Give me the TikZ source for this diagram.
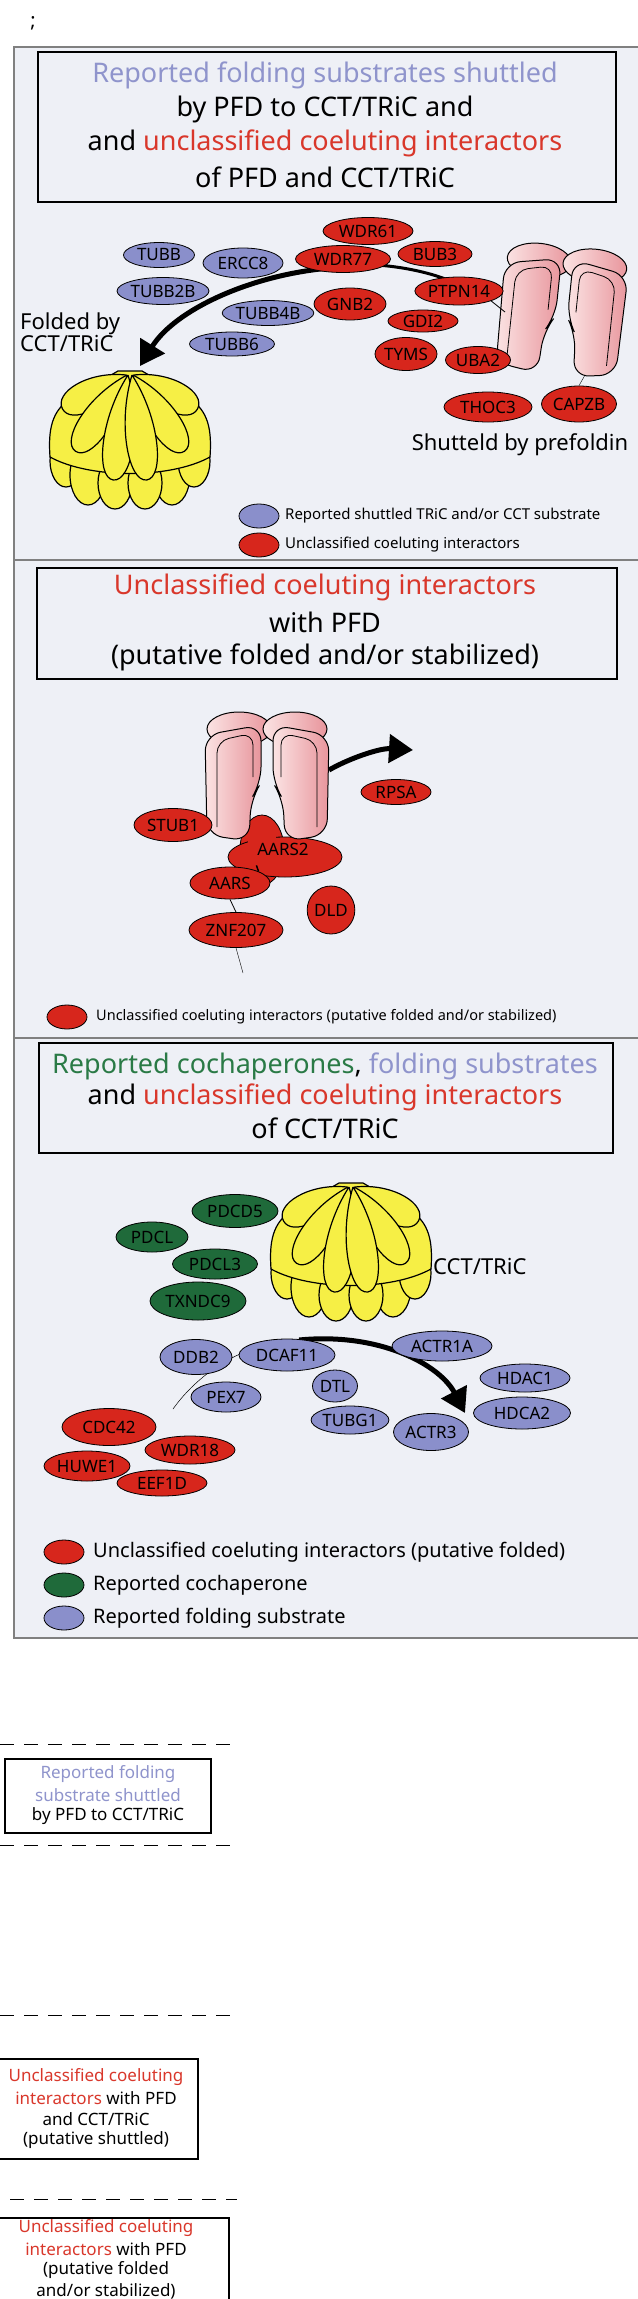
\documentclass[tikz,border=0pt]{standalone}
\usepackage{fontspec}
\setmainfont{Noto Sans}
\usetikzlibrary{shapes.geometric,arrows.meta}
\newcommand\myfs[1]{\fontsize{#1}{#1}\selectfont}
\definecolor{pblue}{HTML}{8A8FCB}
\definecolor{pred}{HTML}{D7261C}
\definecolor{pgreen}{HTML}{1F6A3A}
\definecolor{tblue}{HTML}{8F94CC}
\definecolor{tred}{HTML}{D9372B}
\definecolor{tgreen}{HTML}{2A7A46}
\definecolor{panelbg}{HTML}{EEF0F6}
\definecolor{cyel}{HTML}{F6EF45}
\definecolor{pk1}{HTML}{FBE3E3}
\definecolor{pk2}{HTML}{E8959C}
\tikzset{
 panel/.style={draw=black!50, line width=1.5pt, fill=panelbg},
 tbox/.style={draw=black, line width=1.5pt, fill=panelbg},
 ttl/.style={font=\myfs{27}, anchor=center, inner sep=0pt},
 prot/.style={ellipse, draw=black, line width=0.8pt, inner sep=0pt, font=\myfs{17}},
 bp/.style={prot, fill=pblue},
 rp/.style={prot, fill=pred},
 gp/.style={prot, fill=pgreen},
 P/.style 2 args={minimum width=#1pt, minimum height=#2pt},
 leg/.style={ellipse, draw=black, line width=0.8pt, minimum width=40pt, minimum height=24pt, inner sep=0pt},
 ltxt/.style={anchor=west, inner sep=0pt},
 lbl/.style={font=\myfs{22}, inner sep=0pt},
 big/.style={line width=5pt, -{Triangle[length=24pt,width=28pt]}},
 dsh/.style={dash pattern=on 14pt off 10pt, line width=1pt},
 sbox/.style={draw=black, line width=1.5pt, fill=white},
 stx/.style={font=\myfs{17}, inner sep=0pt},
 cctf/.style={draw=black, line width=1.2pt, fill=cyel},
 pfdf/.style={draw=black, line width=1pt, left color=pk1, right color=pk2},
 cct/.pic={
  \foreach \x/\y/\rx/\ry in {-64/22/16/26, -42/36/18/30, 42/36/18/30, 64/22/16/26, -15/44/17/26, 15/44/17/26}
    \draw[cctf] (\x,\y) ellipse ({\rx} and {\ry});
  \draw[cctf] (-80,18) .. controls (-82,-10) and (-78,-28) .. (-60,-40) -- (-12,-68) -- (12,-68) -- (60,-40) .. controls (78,-28) and (82,-10) .. (80,18) .. controls (40,40) and (-40,40) .. cycle;
  \foreach \a/\l/\o in {-62/72/-4, 62/72/4, -34/92/-3, 34/92/3, -8/106/-2, 8/106/2}
    \draw[cctf, rotate around={\a:(\o,-64)}] (\o,-64) .. controls (\o-22,-64+0.45*\l) and (\o-18,-64+\l) .. (\o,-64+\l) .. controls (\o+18,-64+\l) and (\o+22,-64+0.45*\l) .. (\o,-64);
 },
 pfd/.pic={
  \path[pfdf] (-28,-48) ellipse (32 and 17);
  \path[pfdf] (28,-48) ellipse (32 and 17);
  \path[pfdf, rounded corners=16pt] (-62,-42) -- (-60,58) -- (-18,64) -- (-16,22) -- (-6,6) -- (-6,-52) -- cycle;
  \path[pfdf, rounded corners=16pt] (6,-52) -- (6,6) -- (16,22) -- (18,64) -- (60,58) -- (62,-42) -- cycle;
  \draw[line width=0.8pt, rounded corners=12pt] (-50,50) -- (-50,-36) -- (-14,-44) -- (-14,0);
  \draw[line width=0.8pt, rounded corners=12pt] (50,50) -- (50,-36) -- (14,-44) -- (14,0);
 }
}
\begin{document}
\begin{tikzpicture}[x=1pt,y=-1pt]
\useasboundingbox (0,0) rectangle (637,2299);
\fill[white] (0,0) rectangle (637,2299);
\node[inner sep=0pt, font=\myfs{20}] (semi) at (33,23) {;};
% ================= Panel 1
\draw[panel] (14,47) rectangle (645,560);
\draw[tbox] (38,52) rectangle (616,202);
\node[ttl] (t1a) at (325,75) {\textcolor{tblue}{Reported folding substrates shuttled}};
\node[ttl] (t1b) at (325,109) {by PFD to CCT/TRiC and};
\node[ttl] (t1c) at (325,143) {and \textcolor{tred}{unclassified coeluting interactors}};
\node[ttl] (t1d) at (325,177) {of PFD and CCT/TRiC};
\pic[rotate=-6] at (562,311) {pfd};
\pic at (130,439) {cct};
\node[bp,P={71}{25}] (tubb) at (159,255) {TUBB};
\node[bp,P={80}{30}] (ercc8) at (243,263) {ERCC8};
\node[bp,P={92}{27}] (tubb2b) at (163,291) {TUBB2B};
\node[bp,P={84}{25}] (tubb4b) at (268,313) {TUBB4B};
\node[bp,P={85}{24}] (tubb6) at (232,344) {TUBB6};
\node[rp,P={90}{27}] (wdr61) at (368,231) {WDR61};
\node[rp,P={74}{25}] (bub3) at (435,254) {BUB3};
\coordinate (ar1) at (140,366);
\draw[line width=3pt] (459,285) .. controls (430,270) and (380,262) .. (343,265);
\draw[big] (330,268) .. controls (250,275) and (175,310) .. (ar1);
\node[rp,P={95}{27}] (wdr77) at (343,259) {WDR77};
\draw[line width=0.8pt] (490,300) -- (505,312);
\node[rp,P={85}{28}] (ptpn14) at (459,291) {PTPN14};
\node[rp,P={72}{32}] (gnb2) at (350,304) {GNB2};
\node[rp,P={70}{22}] (gdi2) at (423,321) {GDI2};
\node[rp,P={62}{33}] (tyms) at (406,354) {TYMS};
\node[rp,P={65}{27}] (uba2) at (478,360) {UBA2};
\node[rp,P={88}{30}] (thoc3) at (488,407) {THOC3};
\coordinate (capl) at (585,375);
\node[rp,P={75}{36}] (capzb) at (579,404) {CAPZB};
\draw[line width=0.4pt] (capl) -- (capzb.north);
\node[lbl, align=left, anchor=west] (fold1) at (20,332) {Folded by\\CCT/TRiC};
\node[lbl] (shut1) at (520,445) {Shutteld by prefoldin};
\node[leg, fill=pblue] (lg1a) at (259,516) {};
\node[ltxt, font=\myfs{15}] (lg1at) at (285,516) {Reported shuttled TRiC and/or CCT substrate};
\node[leg, fill=pred] (lg1b) at (259,545) {};
\node[ltxt, font=\myfs{15}] (lg1bt) at (285,545) {Unclassified coeluting interactors};
% ================= Panel 2
\draw[panel] (14,560) rectangle (645,1038);
\draw[tbox] (37,568) rectangle (617,679);
\node[ttl] (t2a) at (325,587) {\textcolor{tred}{Unclassified coeluting interactors}};
\node[ttl] (t2b) at (325,622) {with PFD};
\node[ttl] (t2c) at (325,657) {(putative folded and/or stabilized)};
\path[draw=black, line width=0.8pt, fill=pred] (262,850) ellipse (22 and 35);
\node[rp,P={114}{40}] (aars2) at (285,857) {};
\fill[pred] (248,830) rectangle (276,852);
\pic at (267,777) {pfd};
\node[inner sep=0pt, font=\myfs{17}] (aars2t) at (283,849) {AARS2};
\coordinate (ar2) at (413,750);
\draw[big] (329,770) .. controls (350,758) and (380,748) .. (ar2);
\node[rp,P={70}{25}] (rpsa) at (396,792) {RPSA};
\node[rp,P={78}{33}] (stub1) at (173,825) {STUB1};
\node[rp,P={80}{32}] (aars) at (230,883) {AARS};
\node[rp,P={94}{35}] (znf207) at (236,930) {ZNF207};
\node[rp,P={46}{48}] (dld) at (331,910) {DLD};
\draw[line width=1.5pt] (aars2.south west) ++(12,-6) -- (aars.north east);
\draw[line width=0.8pt] (aars.south) -- (znf207.north);
\coordinate (tail2) at (243,973);
\draw[line width=0.4pt] (znf207.south) -- (tail2);
\node[leg, fill=pred] (lg2) at (67,1017) {};
\node[ltxt, font=\myfs{14.5}] (lg2t) at (96,1017) {Unclassified coeluting interactors (putative folded and/or stabilized)};
% ================= Panel 3
\draw[panel] (14,1038) rectangle (645,1638);
\draw[tbox] (39,1043) rectangle (613,1153);
\node[ttl] (t3a) at (325,1066) {\textcolor{tgreen}{Reported cochaperones}, \textcolor{tblue}{folding substrates}};
\node[ttl] (t3b) at (325,1097) {and \textcolor{tred}{unclassified coeluting interactors}};
\node[ttl] (t3c) at (325,1128) {of CCT/TRiC};
\pic at (351,1251) {cct};
\node[lbl, anchor=west] (cctl) at (433,1266) {CCT/TRiC};
\node[gp,P={86}{33}] (pdcd5) at (235,1211) {PDCD5};
\node[gp,P={72}{30}] (pdcl) at (152,1237) {PDCL};
\node[gp,P={85}{30}] (pdcl3) at (215,1264) {PDCL3};
\node[gp,P={96}{38}] (txndc9) at (198,1301) {TXNDC9};
\coordinate (ar3) at (465,1413);
\draw[big] (299,1340) .. controls (380,1332) and (440,1365) .. (ar3);
\coordinate (tl3) at (173,1409);
\draw[line width=0.5pt] (240,1354) .. controls (215,1365) and (190,1385) .. (tl3);
\node[bp,P={72}{35}] (ddb2) at (196,1357) {DDB2};
\node[bp,P={96}{32}] (dcaf11) at (287,1355) {DCAF11};
\node[bp,P={70}{30}] (pex7) at (226,1397) {PEX7};
\node[bp,P={45}{32}] (dtl) at (335,1386) {DTL};
\node[bp,P={75}{28}] (tubg1) at (350,1420) {TUBG1};
\node[bp,P={100}{30}] (actr1a) at (442,1346) {ACTR1A};
\node[bp,P={90}{28}] (hdac1) at (525,1378) {HDAC1};
\node[bp,P={97}{32}] (hdca2) at (522,1413) {HDCA2};
\node[bp,P={75}{37}] (actr3) at (431,1432) {ACTR3};
\node[rp,P={94}{37}] (cdc42) at (109,1427) {CDC42};
\node[rp,P={90}{28}] (wdr18) at (190,1450) {WDR18};
\node[rp,P={86}{30}] (huwe1) at (87,1466) {HUWE1};
\node[rp,P={90}{26}] (eef1d) at (162,1483) {EEF1D};
\node[leg, fill=pred] (lg3a) at (64,1552) {};
\node[ltxt, font=\myfs{20}] (lg3at) at (93,1552) {Unclassified coeluting interactors (putative folded)};
\node[leg, fill=pgreen] (lg3b) at (64,1585) {};
\node[ltxt, font=\myfs{20}] (lg3bt) at (93,1585) {Reported cochaperone};
\node[leg, fill=pblue] (lg3c) at (64,1618) {};
\node[ltxt, font=\myfs{20}] (lg3ct) at (93,1618) {Reported folding substrate};
% ================= Bottom key
\coordinate (d1a) at (0,1744); \coordinate (d1b) at (237,1744);
\draw[dsh] (d1a) -- (d1b);
\draw[sbox] (5,1759) rectangle (211,1833);
\node[stx] (k1a) at (108,1774) {\textcolor{tblue}{Reported folding}};
\node[stx] (k1b) at (108,1795) {\textcolor{tblue}{substrate shuttled}};
\node[stx] (k1c) at (108,1816) {by PFD to CCT/TRiC};
\coordinate (d2a) at (0,1845); \coordinate (d2b) at (237,1845);
\draw[dsh] (d2a) -- (d2b);
\coordinate (d3a) at (0,2015); \coordinate (d3b) at (237,2015);
\draw[dsh] (d3a) -- (d3b);
\draw[sbox] (-2,2059) rectangle (198,2159);
\node[stx] (k2a) at (96,2077) {\textcolor{tred}{Unclassified coeluting}};
\node[stx] (k2b) at (96,2098) {\textcolor{tred}{interactors} with PFD};
\node[stx] (k2c) at (96,2119) {and CCT/TRiC};
\node[stx] (k2d) at (96,2140) {(putative shuttled)};
\coordinate (d4a) at (10,2199); \coordinate (d4b) at (237,2199);
\draw[dsh] (d4a) -- (d4b);
\draw[sbox] (-2,2218) rectangle (229,2320);
\node[stx] (k3a) at (106,2228) {\textcolor{tred}{Unclassified coeluting}};
\node[stx] (k3b) at (106,2249) {\textcolor{tred}{interactors} with PFD};
\node[stx] (k3c) at (106,2270) {(putative folded};
\node[stx] (k3d) at (106,2291) {and/or stabilized)};
\end{tikzpicture}
\end{document}
